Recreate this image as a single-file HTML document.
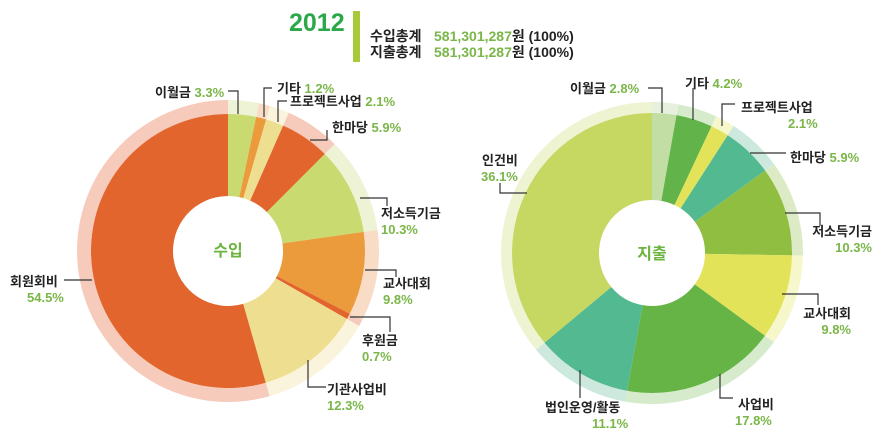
<!DOCTYPE html>
<html><head><meta charset="utf-8"><style>
body{margin:0;background:#fff;width:886px;height:434px;overflow:hidden}
svg{display:block}
text{font-family:"Liberation Sans","Noto Sans CJK KR",sans-serif;font-weight:bold;font-size:13px;fill:#222}
.g{fill:#7ab648}
.h{font-size:14px}
</style></head><body>
<svg id="s" width="886" height="434" xmlns="http://www.w3.org/2000/svg">
<g id="pies"></g>
<text x="289" y="31" style="font-size:25px;fill:#2aa84a">2012</text>
<rect x="353" y="11" width="7" height="51" fill="#a8c93a"/>
<text x="370" y="41" class="h">수입총계 <tspan x="434" class="g">581,301,287</tspan>원 (100%)</text>
<text x="370" y="57" class="h">지출총계 <tspan x="434" class="g">581,301,287</tspan>원 (100%)</text>
<text x="228" y="256" text-anchor="middle" style="font-size:16px;fill:#6cb33f">수입</text>
<text x="652" y="259" text-anchor="middle" style="font-size:16px;fill:#6cb33f">지출</text>
<g fill="none" stroke="#333" stroke-width="1.2">
<polyline points="228,91 238,91 238,114"/>
<polyline points="272,88 264,88 264,117"/>
<polyline points="287,101 278,101 278,122"/>
<polyline points="310,140 327,140 327,130"/>
<polyline points="360,198 387,198 387,206"/>
<polyline points="365,270 396,270 396,277"/>
<polyline points="350,317 390,317 390,332"/>
<polyline points="308,360 308,387 326,387"/>
<polyline points="64,280 92,280"/>
<polyline points="648,88 662,88 662,113"/>
<polyline points="693,88 693,120"/>
<polyline points="735,104 722,104 722,126"/>
<polyline points="750,153 786,153"/>
<polyline points="785,213 820,213 820,226"/>
<polyline points="782,294 818,294 818,305"/>
<polyline points="720,374 720,398 733,398"/>
<polyline points="580,370 580,398"/>
<polyline points="500,183 500,193 527,193"/>
</g>
<text x="155" y="97">이월금 <tspan class="g">3.3%</tspan></text>
<text x="277" y="93">기타 <tspan class="g">1.2%</tspan></text>
<text x="290" y="106">프로젝트사업 <tspan class="g">2.1%</tspan></text>
<text x="332" y="132">한마당 <tspan class="g">5.9%</tspan></text>
<text x="381" y="218">저소득기금</text><text x="381" y="234" class="g">10.3%</text>
<text x="383" y="288">교사대회</text><text x="383" y="304" class="g">9.8%</text>
<text x="362" y="345">후원금</text><text x="362" y="361" class="g">0.7%</text>
<text x="327" y="394">기관사업비</text><text x="327" y="410" class="g">12.3%</text>
<text x="10" y="286">회원회비</text><text x="27" y="302" class="g">54.5%</text>
<text x="570" y="93">이월금 <tspan class="g">2.8%</tspan></text>
<text x="685" y="88">기타 <tspan class="g">4.2%</tspan></text>
<text x="741" y="112">프로젝트사업</text><text x="788" y="128" class="g">2.1%</text>
<text x="790" y="162">한마당 <tspan class="g">5.9%</tspan></text>
<text x="872" y="236" text-anchor="end">저소득기금</text><text x="872" y="252" text-anchor="end" class="g">10.3%</text>
<text x="851" y="318" text-anchor="end">교사대회</text><text x="851" y="334" text-anchor="end" class="g">9.8%</text>
<text x="738" y="409">사업비</text><text x="735" y="425" class="g">17.8%</text>
<text x="545" y="412">법인운영/활동</text><text x="592" y="428" class="g">11.1%</text>
<text x="482" y="165">인건비</text><text x="481" y="181" class="g">36.1%</text>
</svg>
<script>
function arc(cx,cy,r0,r1,a0,a1){
 function p(r,a){return [(cx+r*Math.sin(a)).toFixed(2),(cy-r*Math.cos(a)).toFixed(2)];}
 var l=(a1-a0)>Math.PI?1:0;
 var A=p(r1,a0),B=p(r1,a1),C=p(r0,a1),D=p(r0,a0);
 return "M"+A+"A"+r1+","+r1+" 0 "+l+" 1 "+B+"L"+C+"A"+r0+","+r0+" 0 "+l+" 0 "+D+"Z";
}
function pie(cx,cy,r,rr,h,data){
 var tot=0;data.forEach(function(d){tot+=d[0]});
 var a=0,s="";
 data.forEach(function(d){
  var b=a+d[0]/tot*2*Math.PI;
  s+='<path d="'+arc(cx,cy,r,rr,a,b)+'" fill="'+d[2]+'"/>';
  s+='<path d="'+arc(cx,cy,h,r,a,b)+'" fill="'+d[1]+'"/>';
  a=b;
 });
 return s;
}
var L=pie(228,251,137,151,55,[
[3.3,"#c9db70","#eef3d6"],[1.2,"#eb9b3c","#f9dcc6"],[2.1,"#eedf90","#faf4dc"],[5.9,"#e3652e","#f6cbbb"],
[10.3,"#c9db70","#eef3d6"],[9.8,"#eb9b3c","#f9dcc6"],[0.7,"#e3652e","#f6cbbb"],[12.3,"#eedf90","#faf4dc"],[54.5,"#e3652e","#f6cbbb"]]);
var R=pie(652,253,140,151,53,[
[2.8,"#c3dea5","#e6f0dc"],[4.2,"#62b44a","#d6ebcc"],[2.1,"#e3e35a","#f7f7cc"],[5.9,"#52b991","#cde9de"],
[10.3,"#8fbe41","#dcebc6"],[9.8,"#e3e35a","#f7f7cc"],[17.8,"#66b446","#d6ebcc"],[11.1,"#52b991","#cde9de"],[36.1,"#c6d862","#eef3d2"]]);
document.getElementById("pies").innerHTML=L+R;
</script>
</body></html>
